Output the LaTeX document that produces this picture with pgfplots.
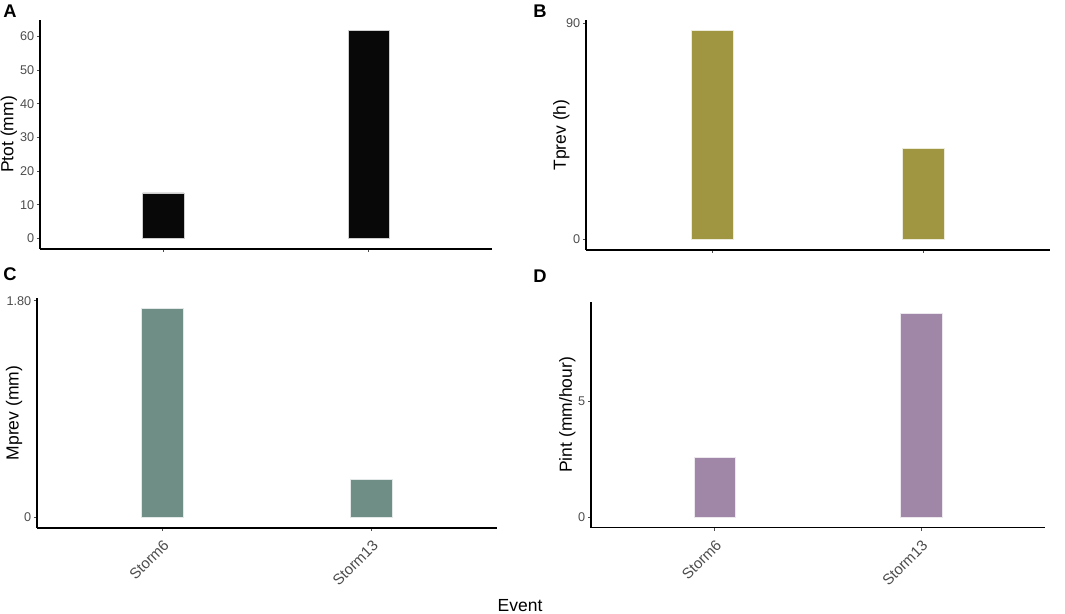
\documentclass[border=0pt]{standalone}
\usepackage{fontspec}
\setmainfont{Liberation Sans}
\usepackage{pgfplots}
\pgfplotsset{compat=1.18}
\definecolor{barA}{HTML}{080808}
\definecolor{barB}{HTML}{A09641}
\definecolor{barC}{HTML}{6F8E85}
\definecolor{barD}{HTML}{A087A7}
\definecolor{tickgray}{HTML}{4D4D4D}
\pgfplotsset{
  panel/.style={
    scale only axis,
    anchor=south west,
    axis lines*=left,
    axis line style={-, black, line width=0.8pt},
    xmin=0.4, xmax=2.6,
    xtick={1,2},
    tick align=outside,
    major tick length=1.8pt,
    every tick/.style={tickgray, line width=0.6pt},
    tick label style={tickgray},
    yticklabel style={font=\fontsize{7.6}{9}\selectfont, inner sep=1.5pt},
    xticklabel style={font=\fontsize{9}{11}\selectfont, rotate=45, anchor=north east},
    ylabel style={font=\fontsize{10.5}{12}\selectfont, rotate=0},
    /pgf/number format/assume math mode=true,
    enlargelimits=false,
    clip=false,
  },
  bars/.style={ybar, bar width=0.2, bar shift=0pt, draw=white!80!#1, line width=0.3pt, fill=#1},
}
\begin{document}
\begin{tikzpicture}
\path[use as bounding box] (0,0) rectangle (639pt,368.4pt);
% Panel A
\begin{axis}[panel, at={(24pt,219pt)}, width=271.2pt, height=137.4pt,
  ymin=-3.09, ymax=64.9, ytick={0,10,20,30,40,50,60},
  xticklabels={},
  ylabel={Ptot (mm)},
  ylabel style={at={(axis description cs:-0.069,0.5)}, anchor=center}]
\addplot[bars=barA] coordinates {(1,13.6) (2,61.8)};
\end{axis}
% Panel B
\begin{axis}[panel, at={(351.6pt,218.4pt)}, width=278.4pt, height=138pt,
  ymin=-4.35, ymax=91.35, ytick={0,90},
  xticklabels={},
  ylabel={Tprev (h)},
  ylabel style={at={(axis description cs:-0.053,0.5)}, anchor=center}]
\addplot[bars=barB] coordinates {(1,87.0) (2,37.9)};
\end{axis}
% Panel C
\begin{axis}[panel, at={(22.2pt,51.6pt)}, width=276pt, height=138pt,
  ymin=-0.087, ymax=1.824, ytick={0,1.8}, yticklabels={0,1.80},
  xticklabels={Storm6,Storm13},
  ylabel={Mprev (mm)},
  ylabel style={at={(axis description cs:-0.05,0.5)}, anchor=center}]
\addplot[bars=barC] coordinates {(1,1.737) (2,0.316)};
\end{axis}
% Panel D
\begin{axis}[panel, at={(354.6pt,51.8pt)}, width=272.4pt, height=135.4pt,
  ymin=-0.447, ymax=9.26, ytick={0,5},
  xticklabels={Storm6,Storm13},
  ylabel={Pint (mm/hour)},
  ylabel style={at={(axis description cs:-0.052,0.5)}, anchor=center}]
\addplot[bars=barD] coordinates {(1,2.58) (2,8.78)};
\end{axis}
% panel letters and shared x label
\node[anchor=base west, font=\fontsize{11}{13}\selectfont\bfseries, inner sep=0pt] at (1.8pt,357.6pt) {A};
\node[anchor=base west, font=\fontsize{11}{13}\selectfont\bfseries, inner sep=0pt] at (319.8pt,357.6pt) {B};
\node[anchor=base west, font=\fontsize{11}{13}\selectfont\bfseries, inner sep=0pt] at (1.8pt,199.8pt) {C};
\node[anchor=base west, font=\fontsize{11}{13}\selectfont\bfseries, inner sep=0pt] at (319.8pt,198.6pt) {D};
\node[anchor=base, font=\fontsize{10.5}{12}\selectfont, inner sep=0pt] at (312pt,1.5pt) {Event};
\end{tikzpicture}
\end{document}
